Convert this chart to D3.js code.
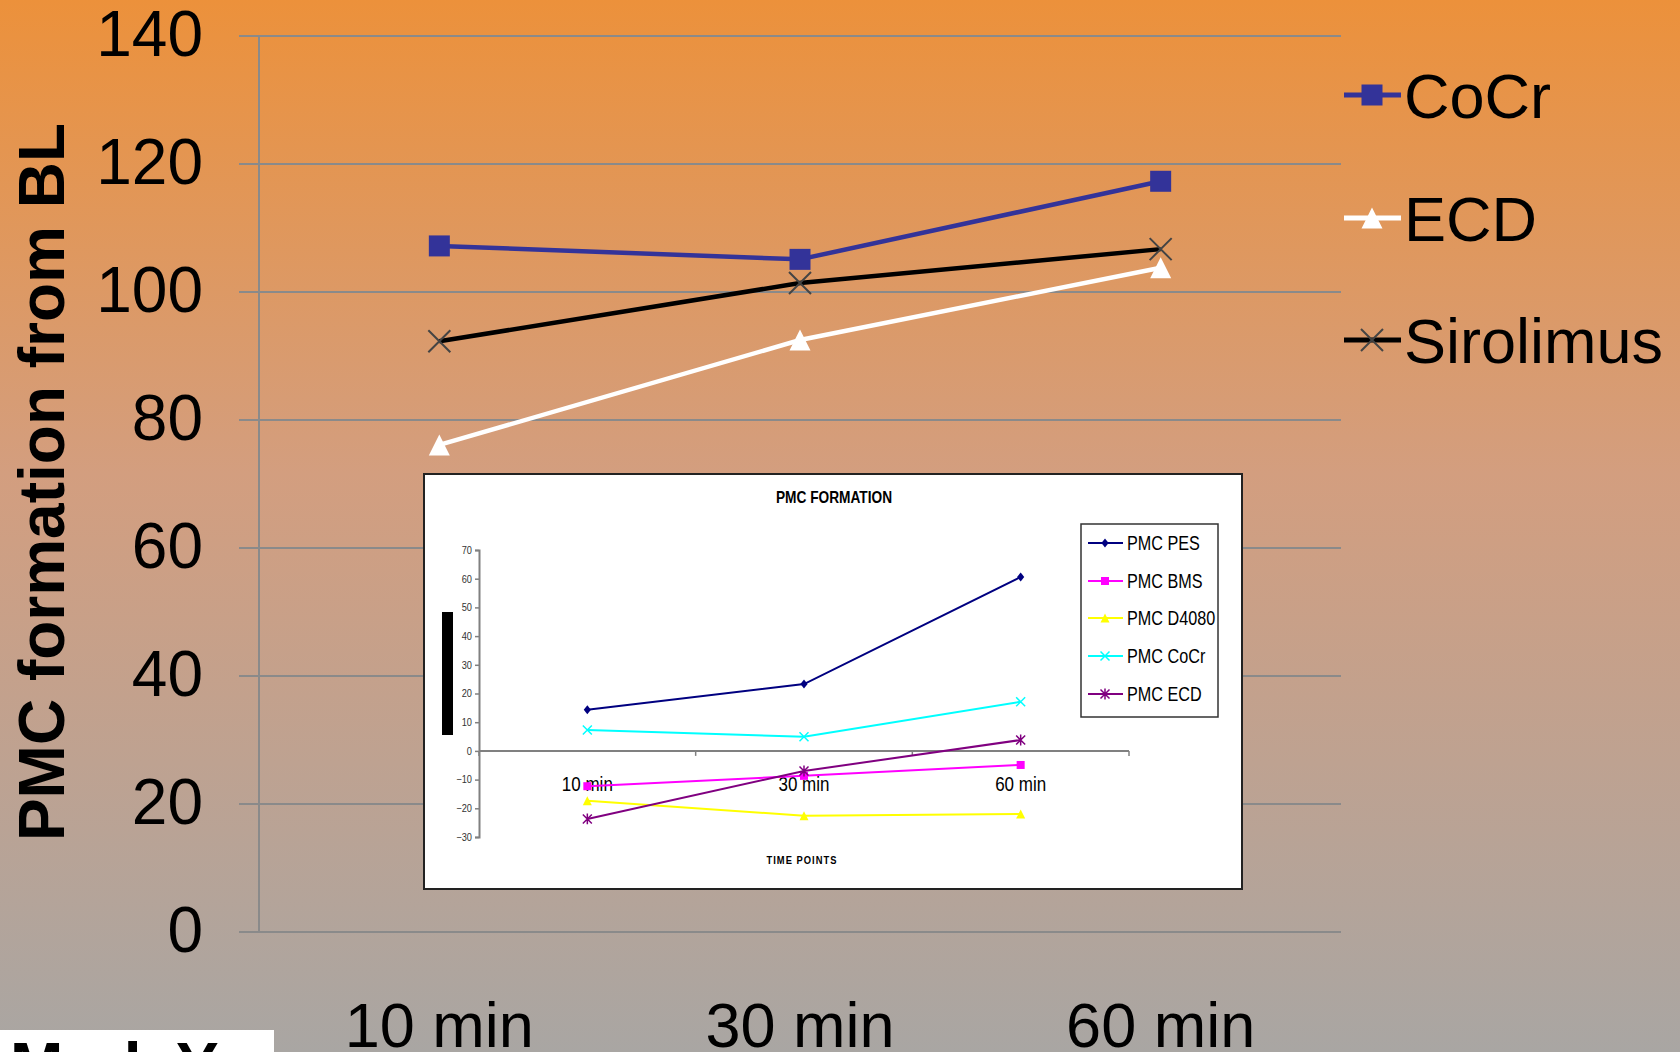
<!DOCTYPE html>
<html>
<head>
<meta charset="utf-8">
<script src="https://cdn.jsdelivr.net/npm/d3@7"></script>
<style>
  html, body { margin: 0; padding: 0; overflow: hidden; }
  svg { display: block; font-family: 'Liberation Sans', Arial, sans-serif; }
</style>
</head>
<body>
<svg id="chart" width="1680" height="1052"></svg>
<script>
// main chart data
const timePoints = ['10 min', '30 min', '60 min'];
const cocrValues = [107.2, 105.1, 117.3];
const ecdValues = [76.1, 92.5, 103.8];
const sirolimusValues = [92.3, 101.4, 106.7];
const yTicks = [0, 20, 40, 60, 80, 100, 120, 140];

// inset chart data (PMC FORMATION)
const insetNames = ['PMC PES', 'PMC BMS', 'PMC D4080', 'PMC CoCr', 'PMC ECD'];
const pmcPes = [14.3, 23.3, 60.6];
const pmcBms = [-12.3, -8.7, -4.9];
const pmcD4080 = [-17.4, -22.6, -22.0];
const pmcCocr = [7.3, 4.9, 17.1];
const pmcEcd = [-23.7, -7.0, 3.8];
const insetTicks = [-30, -20, -10, 0, 10, 20, 30, 40, 50, 60, 70];

const svg = d3.select('#chart');
const W = 1680, H = 1052;

// squeeze text horizontally (the inset is a squashed picture)
function squeeze(sel, k) {
    sel.each(function () {
        const w = this.getComputedTextLength();
        d3.select(this).attr('textLength', w * k).attr('lengthAdjust', 'spacingAndGlyphs');
    });
}

// background gradient
const defs = svg.append('defs');
const grad = defs.append('linearGradient').attr('id', 'bg').attr('x1', 0).attr('y1', 0).attr('x2', 0).attr('y2', 1);
grad.append('stop').attr('offset', '0%').attr('stop-color', '#ec913b');
grad.append('stop').attr('offset', '45%').attr('stop-color', '#d39e7f');
grad.append('stop').attr('offset', '100%').attr('stop-color', '#a9a6a3');
svg.append('rect').attr('width', W).attr('height', H).attr('fill', 'url(#bg)');

// ---------- main chart ----------
const x = d3.scaleBand().domain(timePoints).range([259, 1341]);
const y = d3.scaleLinear().domain([0, 140]).range([932, 36]);
const cx = (d) => x(d) + x.bandwidth() / 2;

// gridlines
svg.append('g')
    .selectAll('line')
    .data(yTicks)
    .join('line')
    .attr('x1', 239)
    .attr('x2', 1341)
    .attr('y1', (d) => y(d))
    .attr('y2', (d) => y(d))
    .attr('stroke', '#8a8a8a')
    .attr('stroke-width', 2);

svg.append('line')
    .attr('x1', 259).attr('x2', 259)
    .attr('y1', y(140)).attr('y2', y(0))
    .attr('stroke', '#8a8a8a')
    .attr('stroke-width', 2);

// y tick labels
svg.append('g')
    .selectAll('text')
    .data(yTicks)
    .join('text')
    .attr('x', 203)
    .attr('y', (d) => y(d))
    .attr('dy', '0.32em')
    .attr('text-anchor', 'end')
    .attr('font-size', 64)
    .text((d) => d);

// x labels
svg.append('g')
    .selectAll('text')
    .data(timePoints)
    .join('text')
    .attr('x', (d) => cx(d))
    .attr('y', 1047)
    .attr('text-anchor', 'middle')
    .attr('font-size', 63)
    .text((d) => d);

// y axis title
svg.append('text')
    .attr('transform', 'translate(64,482) rotate(-90)')
    .attr('text-anchor', 'middle')
    .attr('font-size', 64)
    .attr('font-weight', 'bold')
    .text('PMC formation from BL');

const line = d3.line().x((d, i) => cx(timePoints[i])).y((d) => y(d));

const squarePath = (s) => `M${-s},${-s}H${s}V${s}H${-s}Z`;
const trianglePath = (s) => `M0,${-s}L${s},${s}L${-s},${s}Z`;
const crossPath = (s) => `M${-s},${-s}L${s},${s}M${-s},${s}L${s},${-s}`;
const diamondPath = (s) => `M0,${-s}L${s * 0.8},0L0,${s}L${-s * 0.8},0Z`;
const starPath = (s) => `M${-s},${-s}L${s},${s}M${-s},${s}L${s},${-s}M0,${-s * 1.2}V${s * 1.2}`;

const mainSeries = [
    { name: 'CoCr', values: cocrValues, color: '#333399', marker: (g) => g.append('path').attr('d', squarePath(10.5)).attr('fill', '#333399') },
    { name: 'ECD', values: ecdValues, color: '#ffffff', marker: (g) => g.append('path').attr('d', trianglePath(10.5)).attr('fill', '#ffffff') },
    { name: 'Sirolimus', values: sirolimusValues, color: '#000000', marker: (g) => g.append('path').attr('d', crossPath(11)).attr('stroke', '#444').attr('stroke-width', 2).attr('fill', 'none') },
];

mainSeries.forEach((s) => {
    svg.append('path')
        .datum(s.values)
        .attr('d', line)
        .attr('fill', 'none')
        .attr('stroke', s.color)
        .attr('stroke-width', 4.5);
    s.values.forEach((v, i) => {
        const g = svg.append('g').attr('transform', `translate(${cx(timePoints[i])},${y(v)})`);
        s.marker(g);
    });
});

// main legend
const legendY = [95, 218, 340];
mainSeries.forEach((s, i) => {
    const g = svg.append('g').attr('transform', `translate(0,${legendY[i]})`);
    g.append('line').attr('x1', 1344).attr('x2', 1401).attr('stroke', s.color).attr('stroke-width', 5);
    s.marker(g.append('g').attr('transform', 'translate(1372,0)'));
    g.append('text')
        .attr('x', 1404)
        .attr('dy', '0.36em')
        .attr('font-size', 63)
        .text(s.name);
});

// ---------- inset chart ----------
const inset = svg.append('g');
inset.append('rect')
    .attr('x', 424).attr('y', 474)
    .attr('width', 818).attr('height', 415)
    .attr('fill', '#ffffff')
    .attr('stroke', '#222')
    .attr('stroke-width', 2);

inset.append('text')
    .attr('x', 834).attr('y', 503)
    .attr('text-anchor', 'middle')
    .attr('font-size', 16.5)
    .attr('font-weight', 'bold')
    .text('PMC FORMATION')
    .call(squeeze, 0.83);

// black bar (axis title residue)
inset.append('rect').attr('x', 442).attr('y', 612).attr('width', 11).attr('height', 123).attr('fill', '#000');

const ix = d3.scaleBand().domain(timePoints).range([479, 1129]);
const iy = d3.scaleLinear().domain([-30, 70]).range([837, 550]);
const icx = (d) => ix(d) + ix.bandwidth() / 2;

const yAxisG = inset.append('g')
    .attr('transform', 'translate(479,0)')
    .call(d3.axisLeft(iy).tickValues(insetTicks).tickSize(4).tickPadding(3));
yAxisG.select('.domain').attr('stroke', '#808080').attr('stroke-width', 2);
yAxisG.selectAll('.tick line').attr('stroke', '#808080').attr('stroke-width', 1.5);
yAxisG.selectAll('.tick text')
    .attr('font-size', 10.5)
    .attr('fill', '#333')
    .attr('font-family', "'Liberation Sans', Arial, sans-serif")
    .call(squeeze, 0.88);

// x axis at zero, ticks on category borders
inset.append('line')
    .attr('x1', 479).attr('x2', 1129)
    .attr('y1', iy(0)).attr('y2', iy(0))
    .attr('stroke', '#808080').attr('stroke-width', 2);
const borders = timePoints.map((d) => ix(d)).concat([ix.range()[1]]);
inset.append('g')
    .selectAll('line')
    .data(borders)
    .join('line')
    .attr('x1', (d) => d).attr('x2', (d) => d)
    .attr('y1', iy(0)).attr('y2', iy(0) + 5)
    .attr('stroke', '#808080').attr('stroke-width', 1.5);

inset.append('g')
    .selectAll('text')
    .data(timePoints)
    .join('text')
    .attr('x', (d) => icx(d))
    .attr('y', 791)
    .attr('text-anchor', 'middle')
    .attr('font-size', 21)
    .text((d) => d)
    .call(squeeze, 0.81);

inset.append('text')
    .attr('x', 802).attr('y', 864)
    .attr('text-anchor', 'middle')
    .attr('font-size', 11)
    .attr('font-weight', 'bold')
    .attr('letter-spacing', 1.2)
    .text('TIME POINTS')
    .call(squeeze, 0.85);

const insetSeries = [
    { name: insetNames[0], values: pmcPes, color: '#000080', marker: (g) => g.append('path').attr('d', diamondPath(4.5)).attr('fill', '#000080') },
    { name: insetNames[1], values: pmcBms, color: '#ff00ff', marker: (g) => g.append('path').attr('d', squarePath(4)).attr('fill', '#ff00ff') },
    { name: insetNames[2], values: pmcD4080, color: '#ffff00', marker: (g) => g.append('path').attr('d', trianglePath(4.5)).attr('fill', '#ffff00') },
    { name: insetNames[3], values: pmcCocr, color: '#00ffff', marker: (g) => g.append('path').attr('d', crossPath(4.5)).attr('stroke', '#00ffff').attr('stroke-width', 1.5).attr('fill', 'none') },
    { name: insetNames[4], values: pmcEcd, color: '#800080', marker: (g) => g.append('path').attr('d', starPath(4.5)).attr('stroke', '#800080').attr('stroke-width', 1.5).attr('fill', 'none') },
];

const iline = d3.line().x((d, i) => icx(timePoints[i])).y((d) => iy(d));
insetSeries.forEach((s) => {
    inset.append('path')
        .datum(s.values)
        .attr('d', iline)
        .attr('fill', 'none')
        .attr('stroke', s.color)
        .attr('stroke-width', 2);
    s.values.forEach((v, i) => {
        s.marker(inset.append('g').attr('transform', `translate(${icx(timePoints[i])},${iy(v)})`));
    });
});

// inset legend
inset.append('rect')
    .attr('x', 1081).attr('y', 524)
    .attr('width', 137).attr('height', 193)
    .attr('fill', '#ffffff')
    .attr('stroke', '#333')
    .attr('stroke-width', 1.5);
const insetLegendY = [543, 581, 618, 656, 694];
insetSeries.forEach((s, i) => {
    const g = inset.append('g').attr('transform', `translate(0,${insetLegendY[i]})`);
    g.append('line').attr('x1', 1088).attr('x2', 1123).attr('stroke', s.color).attr('stroke-width', 2);
    s.marker(g.append('g').attr('transform', 'translate(1105,0)'));
    g.append('text')
        .attr('x', 1127)
        .attr('dy', '0.36em')
        .attr('font-size', 20)
        .text(s.name)
        .call(squeeze, 0.81);
});

// cut-off caption box bottom left
svg.append('rect').attr('x', 0).attr('y', 1030).attr('width', 274).attr('height', 22).attr('fill', '#ffffff');
svg.append('text')
    .attr('x', 10).attr('y', 1088)
    .attr('font-size', 64)
    .attr('font-weight', 'bold')
    .text('Mark Y');
</script>
</body>
</html>
